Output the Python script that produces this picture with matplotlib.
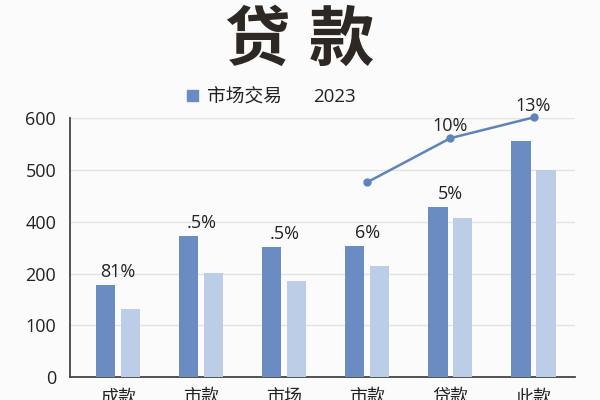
import matplotlib.pyplot as plt
import numpy as np
from matplotlib.patches import Patch

plt.rcParams['font.family'] = ['Open Sans', 'Noto Sans CJK SC', 'DejaVu Sans']

# Data (axis units: gridlines every 120, labelled as in the source)
categories = ['成款', '市款', '市场', '市款', '贷款', '此款']
market = [214, 327, 302, 304, 394, 548]
year_2023 = [159, 241, 222, 258, 369, 480]
bar_labels = ['81%', '.5%', '.5%', '6%', '5%', None]
line_idx = [3, 4, 5]
line_vals = [452, 554, 602]
line_labels = [None, '10%', '13%']
y_ticks = [0, 120, 240, 360, 480, 600]
y_ticklabels = ['0', '100', '200', '400', '500', '600']
title_chars = ['贷', '款']
legend_labels = ['市场交易', '2023']

DARK = '#6a8cc2'
LIGHT = '#bccde8'
LINE = '#5f84bd'
TEXT = '#222222'
BG = '#fbfbfb'

fig = plt.figure(figsize=(6, 4), dpi=100, facecolor=BG)
ax = fig.add_axes([0.1167, 0.0568, 0.8417, 0.6475], facecolor=BG)

x = np.arange(len(categories))
OFF = 0.15
W = 0.23
ax.bar(x - OFF, market, width=W, color=DARK, zorder=3)
ax.bar(x + OFF, year_2023, width=W, color=LIGHT, zorder=3)

ax.plot(line_idx, line_vals, color=LINE, linewidth=1.8, marker='o', markersize=5,
        zorder=4, clip_on=False)

for i, lab in enumerate(bar_labels):
    if lab:
        ax.annotate(lab, (x[i], market[i]), xytext=(0, 3), textcoords='offset points',
                    ha='center', va='bottom', fontsize=13, color=TEXT)
for i, v, lab in zip(line_idx, line_vals, line_labels):
    if lab:
        ax.annotate(lab, (i, v), xytext=(0, 2), textcoords='offset points',
                    ha='center', va='bottom', fontsize=13, color=TEXT,
                    annotation_clip=False)

ax.set_xlim(-0.58, 5.5)
ax.set_ylim(0, 600)
ax.set_yticks(y_ticks)
ax.set_yticklabels(y_ticklabels)
ax.set_xticks(x)
ax.set_xticklabels(categories)
ax.tick_params(axis='both', length=0, labelsize=13, colors=TEXT)
ax.tick_params(axis='y', pad=10)
ax.tick_params(axis='x', pad=8)
ax.yaxis.grid(True, color='#e3e3e3', linewidth=1, zorder=0)
for s in ['top', 'right']:
    ax.spines[s].set_visible(False)
for s in ['left', 'bottom']:
    ax.spines[s].set_color('#444444')
    ax.spines[s].set_linewidth(1.3)

# title, two wide-spaced characters
for cx, ch in zip([0.4275, 0.5692], title_chars):
    fig.text(cx, 0.893, ch, ha='center', va='center', fontsize=47,
             fontweight='black', color='#2e2825')

handles = [Patch(color=DARK), Patch(color='none')]
fig.legend(handles, legend_labels, loc='center', bbox_to_anchor=(0.4525, 0.757),
           ncol=2, frameon=False, fontsize=13.5, handlelength=0.55, handleheight=0.55,
           handletextpad=0.5, columnspacing=0.6, labelcolor=TEXT)

fig.savefig('out.png', dpi=100, facecolor=BG)
